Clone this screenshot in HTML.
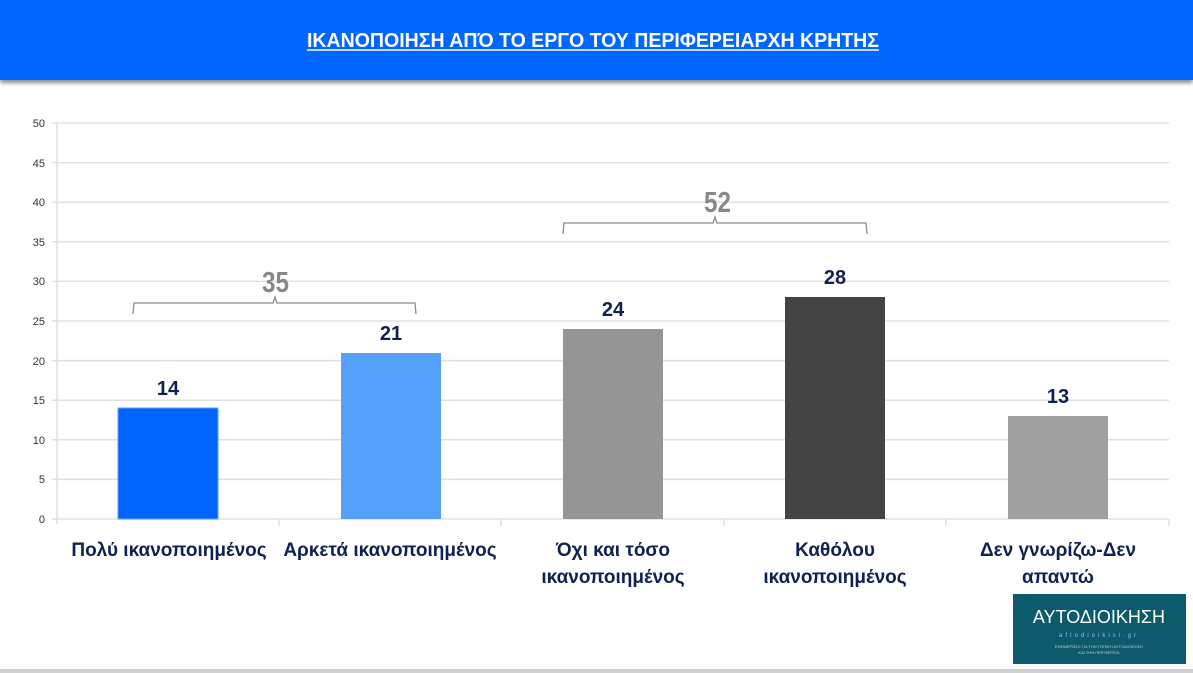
<!DOCTYPE html>
<html><head><meta charset="utf-8"><style>
html,body{margin:0;padding:0;width:1193px;height:673px;overflow:hidden;background:#fff;font-family:"Liberation Sans",sans-serif}
.hdr{position:absolute;left:0;top:0;width:1193px;height:80px;background:#0066ff;box-shadow:0 3px 4px rgba(0,0,0,0.45)}
</style></head><body>
<div class="hdr"></div>
<svg width="1193" height="673" style="position:absolute;left:0;top:0" xmlns="http://www.w3.org/2000/svg">
<text x="307" y="47" font-size="20" font-weight="bold" fill="#fff" textLength="572" lengthAdjust="spacingAndGlyphs">ΙΚΑΝΟΠΟΙΗΣΗ ΑΠΌ ΤΟ ΕΡΓΟ ΤΟΥ ΠΕΡΙΦΕΡΕΙΑΡΧΗ ΚΡΗΤΗΣ</text>
<line x1="307" y1="50" x2="879" y2="50" stroke="#fff" stroke-width="1.5"/>
<g stroke="#e0e0e0" stroke-width="1.5">
<line x1="52" y1="123" x2="1169" y2="123"/><line x1="52" y1="162.6" x2="1169" y2="162.6"/>
<line x1="52" y1="202.2" x2="1169" y2="202.2"/><line x1="52" y1="241.8" x2="1169" y2="241.8"/>
<line x1="52" y1="281.4" x2="1169" y2="281.4"/><line x1="52" y1="321" x2="1169" y2="321"/>
<line x1="52" y1="360.6" x2="1169" y2="360.6"/><line x1="52" y1="400.2" x2="1169" y2="400.2"/>
<line x1="52" y1="439.8" x2="1169" y2="439.8"/><line x1="52" y1="479.4" x2="1169" y2="479.4"/>
<line x1="52" y1="519" x2="1169" y2="519"/>
<line x1="57" y1="123" x2="57" y2="524"/>
<line x1="279" y1="519" x2="279" y2="526"/><line x1="501" y1="519" x2="501" y2="526"/>
<line x1="724" y1="519" x2="724" y2="526"/><line x1="946" y1="519" x2="946" y2="526"/>
<line x1="1169" y1="519" x2="1169" y2="526"/>
</g>
<g font-size="11" fill="#333" text-anchor="end">
<text x="45" y="127">50</text><text x="45" y="167">45</text><text x="45" y="206">40</text>
<text x="45" y="246">35</text><text x="45" y="285">30</text><text x="45" y="325">25</text>
<text x="45" y="365">20</text><text x="45" y="404">15</text><text x="45" y="444">10</text>
<text x="45" y="483">5</text><text x="45" y="523">0</text>
</g>
<rect x="118" y="408" width="100" height="111" fill="#0066ff" stroke="#5aa0ff"/>
<rect x="341" y="353" width="100" height="166" fill="#55a0fb"/>
<rect x="563" y="329" width="100" height="190" fill="#959595"/>
<rect x="785" y="297" width="100" height="222" fill="#444444"/>
<rect x="1008" y="416" width="100" height="103" fill="#a0a0a0"/>
<g font-size="20" font-weight="bold" fill="#0f2152" text-anchor="middle">
<text x="168" y="395">14</text><text x="391" y="340">21</text><text x="613" y="316">24</text>
<text x="835" y="284">28</text><text x="1058" y="403">13</text>
</g>
<g fill="none" stroke="#8a8a8a" stroke-width="1.3">
<path d="M133 314 L134 303 L273 303 L275 297 L277 303 L415 303 L416 314"/>
<path d="M563 234 L564 223 L713 223 L715 217 L717 223 L866 223 L867 234"/>
</g>
<g font-size="29" font-weight="bold" fill="#888">
<text x="262" y="292" textLength="27" lengthAdjust="spacingAndGlyphs">35</text>
<text x="704" y="212" textLength="27" lengthAdjust="spacingAndGlyphs">52</text>
</g>
<g font-size="19" font-weight="bold" fill="#0f2152" text-anchor="middle">
<text x="169" y="556">Πολύ ικανοποιημένος</text>
<text x="390" y="556">Αρκετά ικανοποιημένος</text>
<text x="613" y="556">Όχι και τόσο</text><text x="613" y="583">ικανοποιημένος</text>
<text x="835" y="556">Καθόλου</text><text x="835" y="583">ικανοποιημένος</text>
<text x="1058" y="556">Δεν γνωρίζω-Δεν</text><text x="1058" y="583">απαντώ</text>
</g>
<rect x="1013" y="594" width="173" height="70" fill="#0d5a6d"/>
<text x="1099" y="623" font-size="18" fill="#fff" text-anchor="middle">ΑΥΤΟΔΙΟΙΚΗΣΗ</text>
<text x="1099" y="637" font-size="6" fill="#9cc" text-anchor="middle" letter-spacing="3">aftodioikisi.gr</text>
<text x="1099" y="648" font-size="4" fill="#ccc" text-anchor="middle">ΕΝΗΜΕΡΩΣΗ ΓΙΑ ΤΗΝ ΤΟΠΙΚΗ ΑΥΤΟΔΙΟΙΚΗΣΗ</text>
<text x="1099" y="654" font-size="4" fill="#ccc" text-anchor="middle">ΚΑΙ ΤΗΝ ΠΕΡΙΦΕΡΕΙΑ</text>
<rect x="0" y="669" width="1193" height="4" fill="#d0d0d0"/>
</svg>
</body></html>
